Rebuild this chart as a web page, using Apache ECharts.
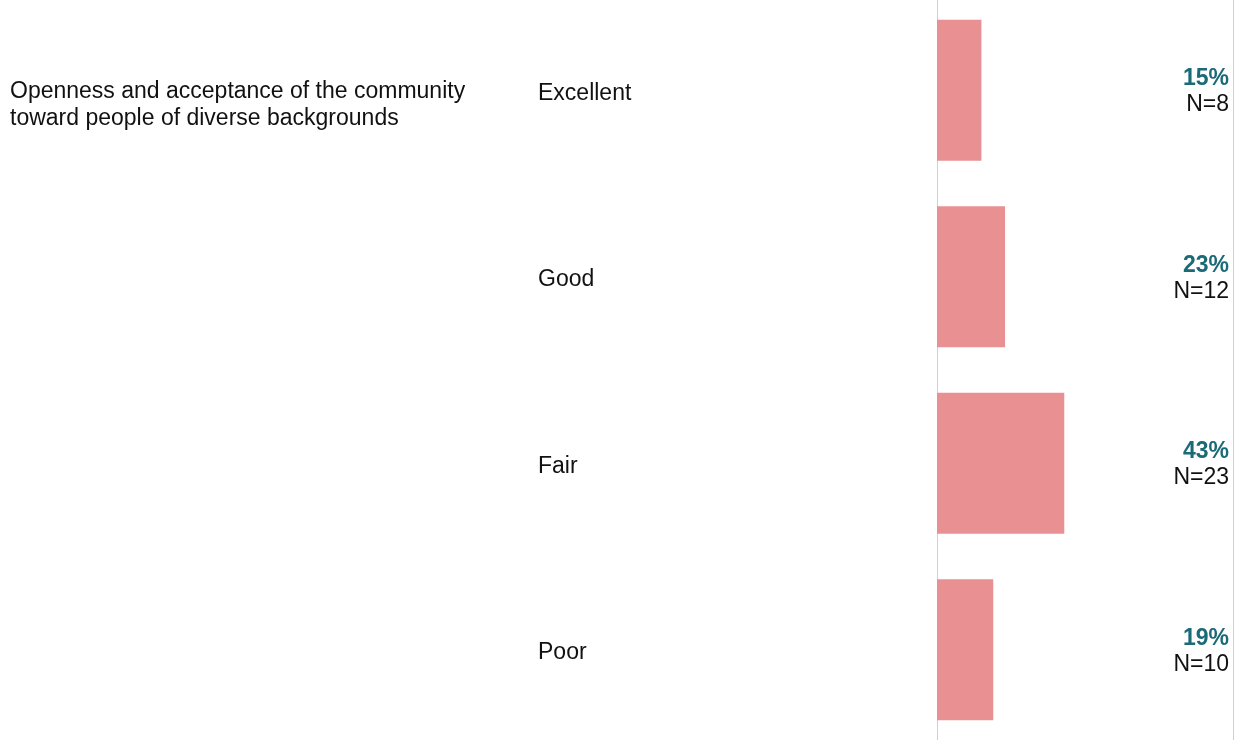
<!DOCTYPE html>
<html>
<head>
<meta charset="utf-8">
<script src="https://cdn.jsdelivr.net/npm/echarts@6/dist/echarts.min.js"></script>
<style>
  html, body { margin: 0; padding: 0; background: #ffffff; }
  #chart { width: 1241px; height: 740px; }
</style>
</head>
<body>
<div id="chart"></div>
<script>
// Survey item and response breakdown
const question = 'Openness and acceptance of the community\ntoward people of diverse backgrounds';
const categories = ['Excellent', 'Good', 'Fair', 'Poor'];
const percents = [15, 23, 43, 19];
const counts = [8, 12, 23, 10];

const FONT = '"Liberation Sans", Arial, Helvetica, sans-serif';
const chart = echarts.init(document.getElementById('chart'));

chart.setOption({
  animation: false,
  backgroundColor: '#ffffff',
  grid: { left: 937, right: 8, top: -3, height: 746, containLabel: false, outerBoundsMode: 'none' },
  xAxis: {
    type: 'value',
    min: 0,
    max: 100,
    show: false
  },
  yAxis: [
    {
      type: 'category',
      data: categories,
      inverse: true,
      position: 'left',
      axisLine: { show: true, lineStyle: { color: '#d0d0d0', width: 1 } },
      axisTick: { show: false },
      axisLabel: {
        align: 'left',
        margin: 399,
        fontFamily: FONT,
        formatter: '{c|{value}}',
        rich: {
          c: { fontFamily: FONT, fontSize: 23, color: '#111111', padding: [6, 0, 0, 0] }
        }
      }
    },
    {
      type: 'category',
      data: categories,
      inverse: true,
      position: 'right',
      axisLine: { show: true, lineStyle: { color: '#d0d0d0', width: 1 } },
      axisTick: { show: false },
      axisLabel: {
        inside: true,
        margin: 4,
        align: 'right',
        padding: [3, 0, 0, 0],
        fontFamily: FONT,
        formatter: function (value, idx) {
          return '{p|' + percents[idx] + '%}\n{n|N=' + counts[idx] + '}';
        },
        rich: {
          p: { fontFamily: FONT, fontSize: 23, fontWeight: 'bold', color: '#1b6a78', lineHeight: 26, align: 'right' },
          n: { fontFamily: FONT, fontSize: 23, color: '#111111', lineHeight: 26, align: 'right' }
        }
      }
    }
  ],
  series: [
    {
      type: 'bar',
      yAxisIndex: 0,
      data: percents,
      barWidth: 141,
      itemStyle: { color: '#e99093' },
      silent: true
    }
  ]
});

// Question text sits beside the first response row
const firstRowY = chart.convertToPixel({ yAxisIndex: 0 }, categories[0]);
chart.setOption({
  graphic: [{
    type: 'text',
    left: 10,
    top: firstRowY - 12,
    style: {
      text: question,
      font: '23px ' + FONT,
      lineHeight: 27,
      fill: '#111111'
    }
  }]
});
</script>
</body>
</html>
